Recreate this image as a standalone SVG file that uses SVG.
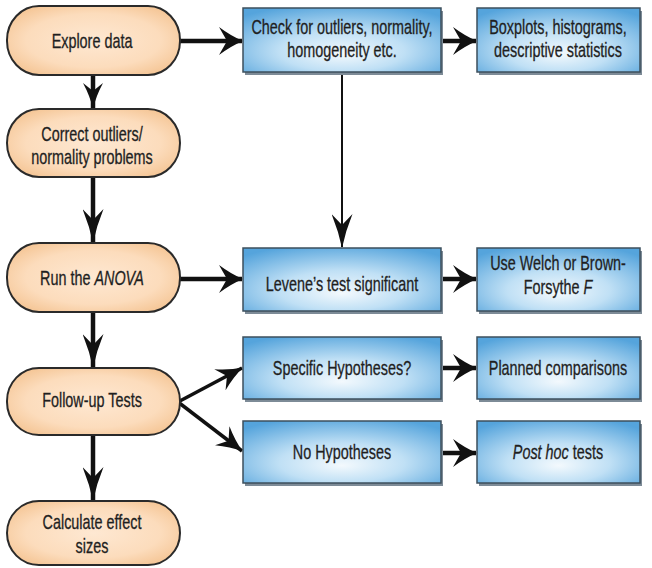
<svg xmlns="http://www.w3.org/2000/svg" width="652" height="568" viewBox="0 0 652 568">
  <defs>
    <radialGradient id="pillFill" cx="50%" cy="50%" r="65%">
      <stop offset="0" stop-color="#fee8d2"/>
      <stop offset="0.6" stop-color="#fcdcbc"/>
      <stop offset="1" stop-color="#f3c08c"/>
    </radialGradient>
    <radialGradient id="boxFill" cx="50%" cy="62%" r="70%" fx="50%" fy="72%">
      <stop offset="0" stop-color="#f3f9fd"/>
      <stop offset="0.45" stop-color="#c0e0f5"/>
      <stop offset="1" stop-color="#55a4dc"/>
    </radialGradient>
    <!-- arrowheads sized in user units: horizontal, vertical, short vertical, diagonal -->
    <marker id="headH" viewBox="0 0 24 28" refX="23" refY="14" markerWidth="24" markerHeight="28" markerUnits="userSpaceOnUse" orient="auto">
      <path d="M0,0 Q12,9 24,14 Q12,19 0,28 L8,14 z" fill="#111"/>
    </marker>
    <marker id="headV" viewBox="0 0 34 21" refX="33" refY="10.5" markerWidth="34" markerHeight="21" markerUnits="userSpaceOnUse" orient="auto">
      <path d="M0,0 Q17,7 34,10.5 Q17,14 0,21 L11,10.5 z" fill="#111"/>
    </marker>
    <marker id="headS" viewBox="0 0 26 20" refX="25" refY="10" markerWidth="26" markerHeight="20" markerUnits="userSpaceOnUse" orient="auto">
      <path d="M0,0 Q13,7 26,10 Q13,13 0,20 L8,10 z" fill="#111"/>
    </marker>
    <marker id="headD" viewBox="0 0 26 24" refX="25" refY="12" markerWidth="26" markerHeight="24" markerUnits="userSpaceOnUse" orient="auto">
      <path d="M0,0 Q13,8 26,12 Q13,16 0,24 L8,12 z" fill="#111"/>
    </marker>
  </defs>
  <style>
    .pill { fill: url(#pillFill); stroke: #2a2a2a; stroke-width: 2; }
    .box { fill: url(#boxFill); stroke: #3d4f5c; stroke-width: 1.5; }
    .shadow { fill: #7d8b97; }
    .lbl { font-family: "Liberation Sans", Arial, sans-serif; font-size: 20px; fill: #1f1f1f; stroke: #1f1f1f; stroke-width: 0.3; text-anchor: middle; }
    .edge { stroke: #111; stroke-width: 4.5; fill: none; }
    .h { marker-end: url(#headH); }
    .v { marker-end: url(#headV); }
    .vs { marker-end: url(#headS); }
    .d { stroke-width: 3.5; marker-end: url(#headD); }
    .thin { stroke-width: 2; }
  </style>
  <rect width="652" height="568" fill="#ffffff"/>

  <!-- connectors -->
  <g id="connectors">
    <line class="edge h" x1="180" y1="41" x2="242" y2="41"/>
    <line class="edge h" x1="441" y1="41" x2="476" y2="41"/>
    <line class="edge thin v" x1="342" y1="74" x2="342" y2="247"/>
    <line class="edge vs" x1="93" y1="76" x2="93" y2="108"/>
    <line class="edge v" x1="93" y1="178" x2="93" y2="242"/>
    <line class="edge v" x1="93" y1="313" x2="93" y2="367"/>
    <line class="edge v" x1="93" y1="436" x2="93" y2="500"/>
    <line class="edge h" x1="180" y1="279" x2="242" y2="279"/>
    <line class="edge h" x1="441" y1="279" x2="476" y2="279"/>
    <line class="edge d" x1="178" y1="402" x2="242" y2="368"/>
    <line class="edge d" x1="178" y1="402" x2="242" y2="451"/>
    <line class="edge h" x1="441" y1="368" x2="476" y2="368"/>
    <line class="edge h" x1="441" y1="453" x2="476" y2="453"/>
  </g>

  <!-- process steps -->
  <g id="explore">
    <rect class="pill" x="7" y="6" width="173" height="69" rx="32" ry="34"/>
    <text class="lbl" transform="translate(92,48) scale(0.72,1)">Explore data</text>
  </g>
  <g id="correct">
    <rect class="pill" x="7" y="109" width="173" height="68" rx="32" ry="34"/>
    <text class="lbl" transform="translate(92,141) scale(0.72,1)">Correct outliers/</text>
    <text class="lbl" transform="translate(92,164) scale(0.72,1)">normality problems</text>
  </g>
  <g id="run">
    <rect class="pill" x="7" y="243" width="173" height="69" rx="32" ry="34"/>
    <text class="lbl" transform="translate(92,285) scale(0.72,1)">Run the <tspan font-style="italic">ANOVA</tspan></text>
  </g>
  <g id="followup">
    <rect class="pill" x="7" y="368" width="173" height="67" rx="32" ry="33"/>
    <text class="lbl" transform="translate(92,407) scale(0.72,1)">Follow-up Tests</text>
  </g>
  <g id="effect">
    <rect class="pill" x="7" y="501" width="173" height="64" rx="32" ry="32"/>
    <text class="lbl" transform="translate(92,529) scale(0.72,1)">Calculate effect</text>
    <text class="lbl" transform="translate(92,553) scale(0.72,1)">sizes</text>
  </g>

  <!-- checks and outcomes -->
  <g id="check">
    <rect class="shadow" x="245" y="11" width="198" height="64"/>
    <rect class="box" x="243" y="8" width="198" height="64"/>
    <text class="lbl" transform="translate(342,33.5) scale(0.72,1)">Check for outliers, normality,</text>
    <text class="lbl" transform="translate(342,57) scale(0.72,1)">homogeneity etc.</text>
  </g>
  <g id="boxplots">
    <rect class="shadow" x="479" y="11" width="163" height="64"/>
    <rect class="box" x="477" y="8" width="163" height="64"/>
    <text class="lbl" transform="translate(558,33.5) scale(0.72,1)">Boxplots, histograms,</text>
    <text class="lbl" transform="translate(558,57) scale(0.72,1)">descriptive statistics</text>
  </g>
  <g id="levene">
    <rect class="shadow" x="245" y="251" width="198" height="63"/>
    <rect class="box" x="243" y="248" width="198" height="63"/>
    <text class="lbl" transform="translate(342,291) scale(0.72,1)">Levene’s test significant</text>
  </g>
  <g id="welch">
    <rect class="shadow" x="479" y="251" width="163" height="63"/>
    <rect class="box" x="477" y="248" width="163" height="63"/>
    <text class="lbl" transform="translate(558,269.5) scale(0.72,1)">Use Welch or Brown-</text>
    <text class="lbl" transform="translate(558,293.5) scale(0.72,1)">Forsythe <tspan font-style="italic">F</tspan></text>
  </g>
  <g id="specific">
    <rect class="shadow" x="245" y="340" width="198" height="62"/>
    <rect class="box" x="243" y="337" width="198" height="62"/>
    <text class="lbl" transform="translate(342,374.5) scale(0.72,1)">Specific Hypotheses?</text>
  </g>
  <g id="planned">
    <rect class="shadow" x="479" y="340" width="163" height="62"/>
    <rect class="box" x="477" y="337" width="163" height="62"/>
    <text class="lbl" transform="translate(558,374.5) scale(0.72,1)">Planned comparisons</text>
  </g>
  <g id="nohyp">
    <rect class="shadow" x="245" y="424" width="198" height="62"/>
    <rect class="box" x="243" y="421" width="198" height="62"/>
    <text class="lbl" transform="translate(342,458.5) scale(0.72,1)">No Hypotheses</text>
  </g>
  <g id="posthoc">
    <rect class="shadow" x="479" y="424" width="163" height="62"/>
    <rect class="box" x="477" y="421" width="163" height="62"/>
    <text class="lbl" transform="translate(558,458.5) scale(0.72,1)"><tspan font-style="italic">Post hoc</tspan> tests</text>
  </g>
</svg>
